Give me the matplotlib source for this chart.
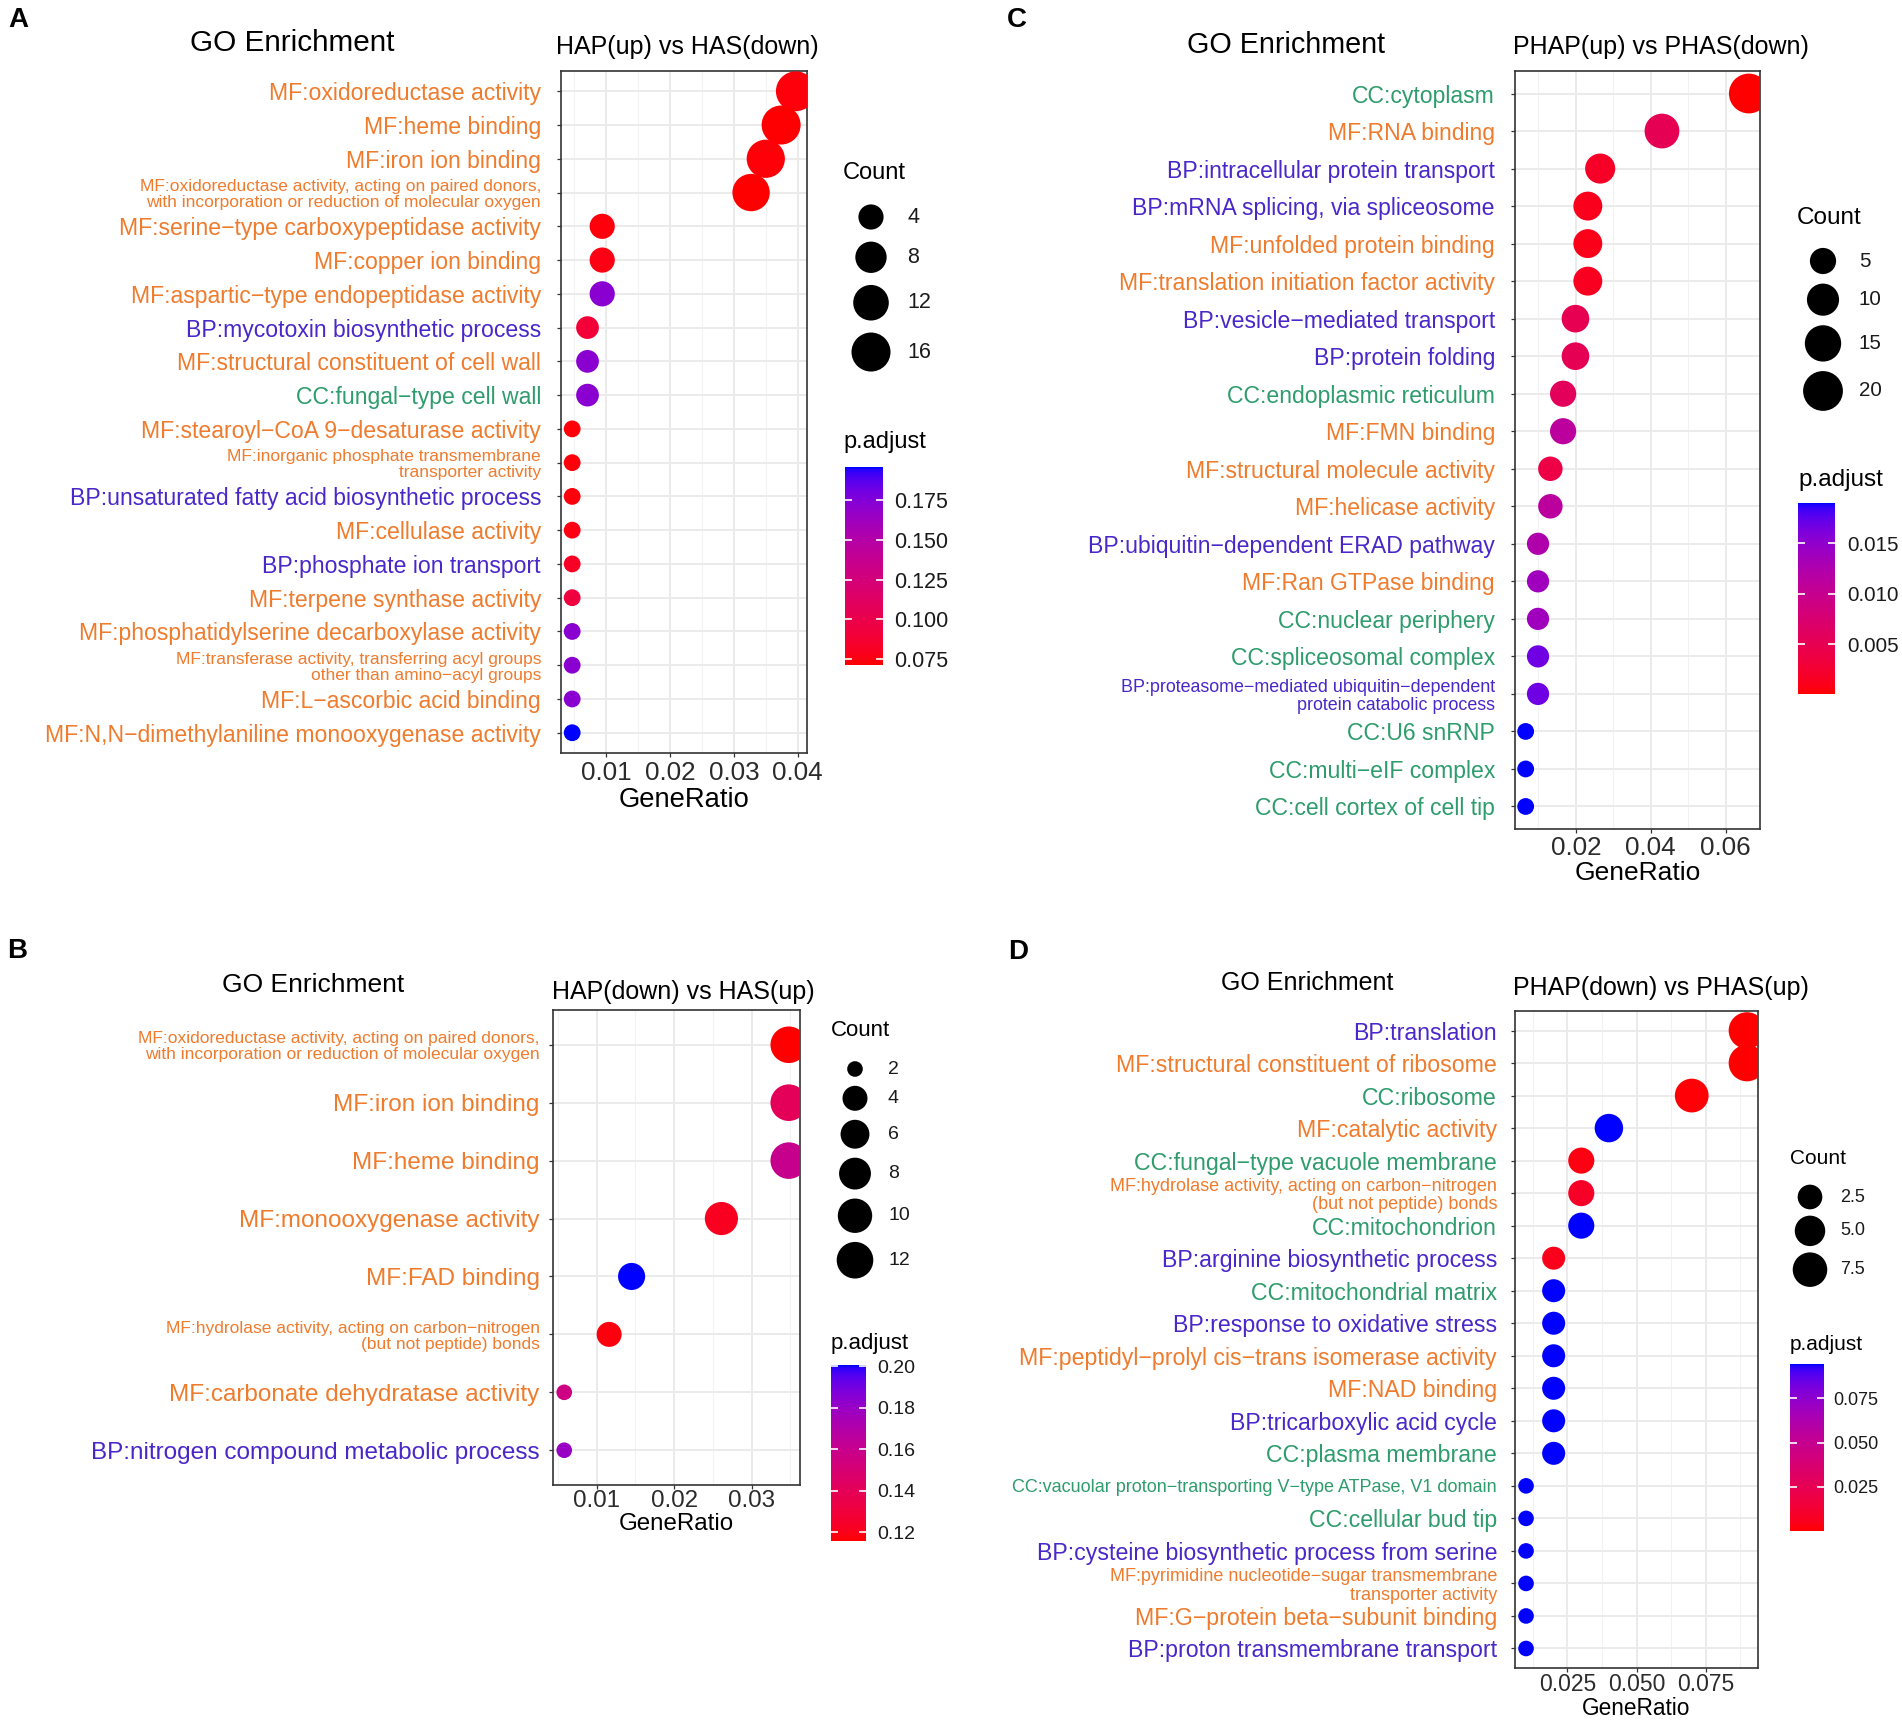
import numpy as np
import matplotlib
matplotlib.use('Agg')
import matplotlib.pyplot as plt
from matplotlib.colors import LinearSegmentedColormap, Normalize
from matplotlib.cm import ScalarMappable
from matplotlib.ticker import MultipleLocator

plt.rcParams['font.family'] = ['Liberation Sans', 'DejaVu Sans']

W, H = 1902, 1727

# ---------------- data ----------------
# A: HAP(up) vs HAS(down)
a_terms = ["MF:oxidoreductase activity",
           "MF:heme binding",
           "MF:iron ion binding",
           "MF:oxidoreductase activity, acting on paired donors,\nwith incorporation or reduction of molecular oxygen",
           "MF:serine−type carboxypeptidase activity",
           "MF:copper ion binding",
           "MF:aspartic−type endopeptidase activity",
           "BP:mycotoxin biosynthetic process",
           "MF:structural constituent of cell wall",
           "CC:fungal−type cell wall",
           "MF:stearoyl−CoA 9−desaturase activity",
           "MF:inorganic phosphate transmembrane\ntransporter activity",
           "BP:unsaturated fatty acid biosynthetic process",
           "MF:cellulase activity",
           "BP:phosphate ion transport",
           "MF:terpene synthase activity",
           "MF:phosphatidylserine decarboxylase activity",
           "MF:transferase activity, transferring acyl groups\nother than amino−acyl groups",
           "MF:L−ascorbic acid binding",
           "MF:N,N−dimethylaniline monooxygenase activity"]
a_ratio = [0.0397, 0.0374, 0.0350, 0.0327, 0.0094, 0.0094, 0.0094, 0.0071, 0.0071, 0.0071,
           0.0047, 0.0047, 0.0047, 0.0047, 0.0047, 0.0047, 0.0047, 0.0047, 0.0047, 0.0047]
a_count = [17, 16, 15, 14, 4, 4, 4, 3, 3, 3, 2, 2, 2, 2, 2, 2, 2, 2, 2, 2]
a_padj = [0.074, 0.072, 0.073, 0.0714, 0.074, 0.076, 0.172, 0.090, 0.172, 0.172,
          0.073, 0.074, 0.074, 0.075, 0.082, 0.094, 0.172, 0.172, 0.172, 0.1958]
a_xticks = [0.01, 0.02, 0.03, 0.04]
a_xlabels = ["0.01", "0.02", "0.03", "0.04"]
a_size_breaks = [4, 8, 12, 16]
a_size_labels = ["4", "8", "12", "16"]
a_cb_ticks = [0.075, 0.100, 0.125, 0.150, 0.175]
a_cb_labels = ["0.075", "0.100", "0.125", "0.150", "0.175"]

# B: HAP(down) vs HAS(up)
b_terms = ["MF:oxidoreductase activity, acting on paired donors,\nwith incorporation or reduction of molecular oxygen",
           "MF:iron ion binding",
           "MF:heme binding",
           "MF:monooxygenase activity",
           "MF:FAD binding",
           "MF:hydrolase activity, acting on carbon−nitrogen\n(but not peptide) bonds",
           "MF:carbonate dehydratase activity",
           "BP:nitrogen compound metabolic process"]
b_ratio = [0.0348, 0.0348, 0.0348, 0.0261, 0.0145, 0.0116, 0.0058, 0.0058]
b_count = [12, 12, 12, 9, 5, 4, 2, 2]
b_padj = [0.1157, 0.140, 0.160, 0.122, 0.2006, 0.118, 0.156, 0.180]
b_xticks = [0.01, 0.02, 0.03]
b_xlabels = ["0.01", "0.02", "0.03"]
b_size_breaks = [2, 4, 6, 8, 10, 12]
b_size_labels = ["2", "4", "6", "8", "10", "12"]
b_cb_ticks = [0.12, 0.14, 0.16, 0.18, 0.20]
b_cb_labels = ["0.12", "0.14", "0.16", "0.18", "0.20"]

# C: PHAP(up) vs PHAS(down)
c_terms = ["CC:cytoplasm",
           "MF:RNA binding",
           "BP:intracellular protein transport",
           "BP:mRNA splicing, via spliceosome",
           "MF:unfolded protein binding",
           "MF:translation initiation factor activity",
           "BP:vesicle−mediated transport",
           "BP:protein folding",
           "CC:endoplasmic reticulum",
           "MF:FMN binding",
           "MF:structural molecule activity",
           "MF:helicase activity",
           "BP:ubiquitin−dependent ERAD pathway",
           "MF:Ran GTPase binding",
           "CC:nuclear periphery",
           "CC:spliceosomal complex",
           "BP:proteasome−mediated ubiquitin−dependent\nprotein catabolic process",
           "CC:U6 snRNP",
           "CC:multi−eIF complex",
           "CC:cell cortex of cell tip"]
c_ratio = [0.0662, 0.0430, 0.0265, 0.0232, 0.0232, 0.0232, 0.0199, 0.0199, 0.0166, 0.0166,
           0.0132, 0.0132, 0.0099, 0.0099, 0.0099, 0.0099, 0.0099, 0.0066, 0.0066, 0.0066]
c_count = [20, 13, 8, 7, 7, 7, 6, 6, 5, 5, 4, 4, 3, 3, 3, 3, 3, 2, 2, 2]
c_padj = [0.0001, 0.0052, 0.0018, 0.0012, 0.0010, 0.0014, 0.0050, 0.0052, 0.0058, 0.0112,
          0.0040, 0.0112, 0.0125, 0.0138, 0.0138, 0.0168, 0.0168, 0.0190, 0.0190, 0.0190]
c_xticks = [0.02, 0.04, 0.06]
c_xlabels = ["0.02", "0.04", "0.06"]
c_size_breaks = [5, 10, 15, 20]
c_size_labels = ["5", "10", "15", "20"]
c_cb_ticks = [0.005, 0.010, 0.015]
c_cb_labels = ["0.005", "0.010", "0.015"]

# D: PHAP(down) vs PHAS(up)
d_terms = ["BP:translation",
           "MF:structural constituent of ribosome",
           "CC:ribosome",
           "MF:catalytic activity",
           "CC:fungal−type vacuole membrane",
           "MF:hydrolase activity, acting on carbon−nitrogen\n(but not peptide) bonds",
           "CC:mitochondrion",
           "BP:arginine biosynthetic process",
           "CC:mitochondrial matrix",
           "BP:response to oxidative stress",
           "MF:peptidyl−prolyl cis−trans isomerase activity",
           "MF:NAD binding",
           "BP:tricarboxylic acid cycle",
           "CC:plasma membrane",
           "CC:vacuolar proton−transporting V−type ATPase, V1 domain",
           "CC:cellular bud tip",
           "BP:cysteine biosynthetic process from serine",
           "MF:pyrimidine nucleotide−sugar transmembrane\ntransporter activity",
           "MF:G−protein beta−subunit binding",
           "BP:proton transmembrane transport"]
d_ratio = [0.09, 0.09, 0.07, 0.04, 0.03, 0.03, 0.03, 0.02, 0.02, 0.02,
           0.02, 0.02, 0.02, 0.02, 0.01, 0.01, 0.01, 0.01, 0.01, 0.01]
d_count = [9, 9, 7, 4, 3, 3, 3, 2, 2, 2, 2, 2, 2, 2, 1, 1, 1, 1, 1, 1]
d_padj = [0.0001, 0.0003, 0.0010, 0.0944, 0.0030, 0.0090, 0.0944, 0.0050, 0.0944, 0.0944,
          0.0944, 0.0944, 0.0944, 0.0944, 0.0944, 0.0944, 0.0944, 0.0944, 0.0944, 0.0944]
d_xticks = [0.025, 0.050, 0.075]
d_xlabels = ["0.025", "0.050", "0.075"]
d_size_breaks = [2.5, 5.0, 7.5]
d_size_labels = ["2.5", "5.0", "7.5"]
d_cb_ticks = [0.025, 0.050, 0.075]
d_cb_labels = ["0.025", "0.050", "0.075"]

ONT_COLORS = {'MF': '#EF7B2D', 'BP': '#4A27C9', 'CC': '#2E9C6C'}


# red -> blue gradient interpolated in Lab space (like ggplot)
M = np.array([[0.4124, 0.3576, 0.1805], [0.2126, 0.7152, 0.0722], [0.0193, 0.1192, 0.9505]])
WP = np.array([0.95047, 1.0, 1.08883])


def to_lab(rgb):
    c = np.asarray(rgb, float)
    lin = np.where(c <= 0.04045, c / 12.92, ((c + 0.055) / 1.055) ** 2.4)
    xyz = M @ lin / WP
    f = np.where(xyz > 0.008856, np.cbrt(xyz), 7.787 * xyz + 16 / 116)
    return np.array([116 * f[1] - 16, 500 * (f[0] - f[1]), 200 * (f[1] - f[2])])


def from_lab(lab):
    L, a, b = lab
    fy = (L + 16) / 116
    f = np.array([fy + a / 500, fy, fy - b / 200])
    xyz = np.where(f ** 3 > 0.008856, f ** 3, (f - 16 / 116) / 7.787) * WP
    lin = np.clip(np.linalg.inv(M) @ xyz, 0, None)
    c = np.where(lin <= 0.0031308, 12.92 * lin, 1.055 * lin ** (1 / 2.4) - 0.055)
    return np.clip(c, 0, 1)


lab_r, lab_b = to_lab([1, 0, 0]), to_lab([0, 0, 1])
cmap = LinearSegmentedColormap.from_list(
    'rb', [from_lab(lab_r + t * (lab_b - lab_r)) for t in np.linspace(0, 1, 101)])


def dot_px(c, cmin, cmax, k):
    # enrichplot: scale_size(range = c(3, 8))
    frac = np.clip((np.asarray(c, float) - cmin) / (cmax - cmin), 0, 1)
    return k * (3 + 5 * np.sqrt(frac)) + 3


fig = plt.figure(figsize=(W / 100, H / 100), dpi=100)
over = fig.add_axes([0, 0, 1, 1], zorder=10)
over.set_xlim(0, W)
over.set_ylim(H, 0)
over.axis('off')


def draw_panel(letter, sub, terms, ratio, count, padj, xticks, xlabels,
               size_breaks, size_labels, cb_ticks, cb_labels, lay, fs):
    n = len(terms)
    x0, y0, x1, y1 = lay['axes']
    ax = fig.add_axes([x0 / W, 1 - y1 / H, (x1 - x0) / W, (y1 - y0) / H])
    ypos = np.arange(n)
    norm = Normalize(min(padj), max(padj))
    cmin, cmax = min(count), max(count)
    sizes = (dot_px(count, cmin, cmax, lay['k']) * 0.72) ** 2
    ax.scatter(ratio, ypos, s=sizes, c=padj, cmap=cmap, norm=norm, linewidths=0, zorder=3)

    rng = max(ratio) - min(ratio)
    ax.set_xlim(min(ratio) - 0.05 * rng, max(ratio) + 0.05 * rng)
    ax.set_ylim(n - 0.4, -0.6)
    ax.set_xticks(xticks)
    ax.set_xticklabels(xlabels)
    ax.xaxis.set_minor_locator(MultipleLocator((xticks[1] - xticks[0]) / 2))
    ax.set_yticks(ypos)
    ax.set_yticklabels(terms)
    ax.set_axisbelow(True)
    ax.grid(which='major', color='#EBEBEB', lw=1.4)
    ax.grid(which='minor', axis='x', color='#F2F2F2', lw=0.8)
    ax.tick_params(axis='x', which='minor', length=0)
    ax.tick_params(axis='both', which='major', length=2.9, width=0.9, color='#333333')
    ax.tick_params(axis='y', pad=lay['ypad'])
    ax.tick_params(axis='x', pad=lay['xpad'], labelsize=fs['xtick'], labelcolor='#2b2b2b')
    for sp in ax.spines.values():
        sp.set_color('#333333')
        sp.set_linewidth(1.2)
    for t, lab in zip(ax.get_yticklabels(), terms):
        t.set_color(ONT_COLORS[lab[:2]])
        small = ('\n' in lab) or len(lab) > 50
        t.set_fontsize(fs['ysmall'] if small else fs['ybig'])
        t.set_linespacing(1.1)
    ax.set_xlabel('GeneRatio', fontsize=fs['xlabel'], labelpad=lay['xlabpad'], color='black')

    # titles
    over.text(*lay['letter'], letter, fontsize=20, fontweight='bold', ha='center', va='center')
    over.text(*lay['title'], 'GO Enrichment', fontsize=fs['title'], ha='center', va='center')
    over.text(*lay['sub'], sub, fontsize=fs['sub'], ha='center', va='center')

    # size legend
    lx, ly = lay['count']
    over.text(lx, ly, 'Count', fontsize=fs['ltitle'], ha='left', va='center')
    dk = dot_px(size_breaks, cmin, cmax, lay['k'])
    ky = [lay['key0']]
    for i in range(1, len(dk)):
        ky.append(ky[-1] + (dk[i - 1] + dk[i]) / 2 + lay['keypad'])
    over.scatter([lay['keyx']] * len(dk), ky, s=(dk * 0.72) ** 2, color='black', linewidths=0)
    for yy, lab in zip(ky, size_labels):
        over.text(lay['keylab'], yy, lab, fontsize=fs['llabel'], ha='left', va='center',
                  color='#1a1a1a')

    # colour bar
    px, py = lay['padj']
    over.text(px, py, 'p.adjust', fontsize=fs['ltitle'], ha='left', va='center')
    bx0, by0, bx1, by1 = lay['cbar']
    cax = fig.add_axes([bx0 / W, 1 - by1 / H, (bx1 - bx0) / W, (by1 - by0) / H])
    cb = fig.colorbar(ScalarMappable(norm=norm, cmap=cmap), cax=cax)
    cb.outline.set_visible(False)
    cb.set_ticks(cb_ticks)
    cb.set_ticklabels(cb_labels)
    cax.tick_params(axis='y', direction='in', length=5, width=1.2, color='white',
                    left=True, right=True, labelleft=False, labelright=True,
                    labelsize=fs['llabel'], labelcolor='#1a1a1a', pad=lay['cbpad'])
    return ax


fs_a = dict(ybig=16.6, ysmall=12.5, xtick=18.7, xlabel=19.7, title=21.4, sub=18,
            ltitle=17, llabel=15.5)
lay_a = dict(axes=(561, 71, 807, 753), k=4.6, ypad=11.5, xpad=2.7, xlabpad=1.5,
             letter=(18, 20), title=(292, 43), sub=(687, 47),
             count=(843, 173), key0=217, keyx=871, keylab=907, keypad=12,
             padj=(843, 442), cbar=(845, 467, 883, 665), cbpad=8)
draw_panel('A', 'HAP(up) vs HAS(down)', a_terms, a_ratio, a_count, a_padj, a_xticks, a_xlabels,
           a_size_breaks, a_size_labels, a_cb_ticks, a_cb_labels, lay_a, fs_a)

fs_b = dict(ybig=17.5, ysmall=12.5, xtick=17.4, xlabel=17.4, title=19, sub=18,
            ltitle=16, llabel=14)
lay_b = dict(axes=(553, 1010, 800, 1485), k=4.2, ypad=6.8, xpad=0.8, xlabpad=0.5,
             letter=(17, 951), title=(313, 985), sub=(683, 992),
             count=(831, 1030), key0=1069, keyx=855, keylab=888, keypad=9,
             padj=(831, 1343), cbar=(831, 1365, 866, 1541), cbpad=8)
draw_panel('B', 'HAP(down) vs HAS(up)', b_terms, b_ratio, b_count, b_padj, b_xticks, b_xlabels,
           b_size_breaks, b_size_labels, b_cb_ticks, b_cb_labels, lay_b, fs_b)

fs_c = dict(ybig=16.6, ysmall=12.9, xtick=18.7, xlabel=19, title=20.7, sub=18,
            ltitle=17.5, llabel=14.8)
lay_c = dict(axes=(1514.5, 71, 1760, 829), k=4.6, ypad=11.2, xpad=2, xlabpad=0.5,
             letter=(1017, 20), title=(1286, 45), sub=(1661, 47),
             count=(1797, 218), key0=261, keyx=1823, keylab=1859, keypad=9.5,
             padj=(1798, 480), cbar=(1798, 503, 1835, 694), cbpad=9)
draw_panel('C', 'PHAP(up) vs PHAS(down)', c_terms, c_ratio, c_count, c_padj, c_xticks, c_xlabels,
           c_size_breaks, c_size_labels, c_cb_ticks, c_cb_labels, lay_c, fs_c)

fs_d = dict(ybig=16.7, ysmall=13, xtick=16.5, xlabel=16.3, title=18, sub=18,
            ltitle=15, llabel=13)
lay_d = dict(axes=(1515, 1011, 1758, 1668), k=4.2, ypad=10, xpad=1, xlabpad=0.5,
             letter=(1018, 952), title=(1307, 983), sub=(1661, 988),
             count=(1790, 1159), key0=1197, keyx=1810, keylab=1840, keypad=6.3,
             padj=(1790, 1344), cbar=(1790, 1364, 1824, 1531), cbpad=7)
draw_panel('D', 'PHAP(down) vs PHAS(up)', d_terms, d_ratio, d_count, d_padj, d_xticks, d_xlabels,
           d_size_breaks, d_size_labels, d_cb_ticks, d_cb_labels, lay_d, fs_d)

fig.savefig('out.png', dpi=100, facecolor='white')
